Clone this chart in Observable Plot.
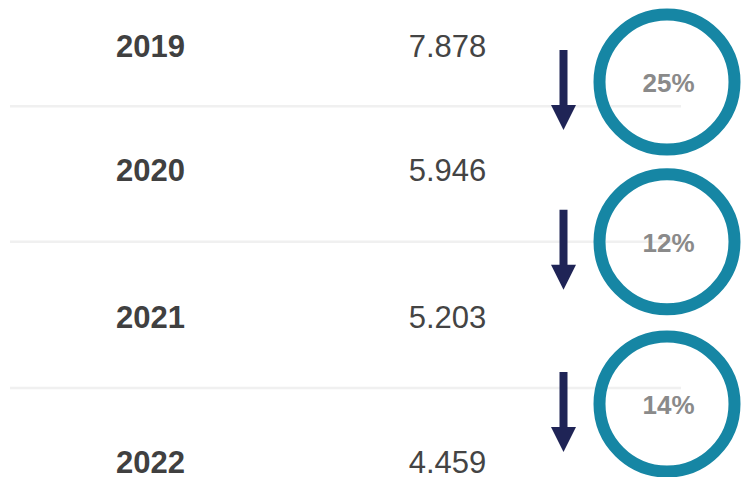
<!DOCTYPE html>
<html>
<head>
<meta charset="utf-8">
<script src="https://cdn.jsdelivr.net/npm/d3@7"></script>
<script src="https://cdn.jsdelivr.net/npm/@observablehq/plot@0.6"></script>
<style>
  html, body { margin: 0; padding: 0; background: #ffffff; }
  #chart svg { display: block; }
</style>
</head>
<body>
<div id="chart"></div>
<script>
// ---- data ----
const years = [2019, 2020, 2021, 2022];
const values = [7878, 5946, 5203, 4459];
const changes = [25, 12, 14]; // % decrease from one year to the next

// ---- layout (positions / sizes / styles, not data) ----
const layout = {
  width: 741,
  height: 477,
  rowY: [47, 170.5, 318, 463],      // y-range of the year scale (piecewise)
  changeAt: [0.28, 0.48, 0.59],     // where each change marker sits between two rows
  xYear: 150,
  xValue: 447,
  xArrow: 563,
  xCircle: 666.5,
  xRuleStart: 10,
  xRuleEnd: 681
};

const fmt = d3.formatLocale({decimal: ",", thousands: ".", grouping: [3], currency: ["", ""]}).format(",d");

const rows = years.map((y, i) => ({year: y, value: values[i]}));
const steps = changes.map((c, i) => ({
  from: years[i],
  pos: years[i] + layout.changeAt[i],
  label: c + "%"
}));
const seps = years.slice(0, -1).map(y => ({pos: y + 0.5}));

// custom down-arrow symbol (shaft + filled head)
const downArrow = {
  draw(ctx, size) {
    ctx.moveTo(-4, -40);
    ctx.lineTo(4, -40);
    ctx.lineTo(4, 15);
    ctx.lineTo(12.5, 15);
    ctx.lineTo(0, 40);
    ctx.lineTo(-12.5, 15);
    ctx.lineTo(-4, 15);
    ctx.closePath();
  }
};

const chart = Plot.plot({
  width: layout.width,
  height: layout.height,
  margin: 0,
  style: {fontFamily: "'Liberation Sans', Arial, sans-serif", background: "#ffffff"},
  x: {type: "linear", domain: [0, layout.width], range: [0, layout.width], axis: null},
  y: {type: "linear", domain: years, range: layout.rowY, axis: null},
  marks: [
    Plot.ruleY(seps, {y: "pos", x1: layout.xRuleStart, x2: layout.xRuleEnd, dy: -3, stroke: "#f0f0f0", strokeWidth: 2.5}),
    Plot.text(rows, {x: layout.xYear, y: "year", text: d => String(d.year), fontSize: 31, fontWeight: "bold", fill: "#404040", textAnchor: "middle"}),
    Plot.text(rows, {x: layout.xValue, y: "year", text: d => fmt(d.value), fontSize: 31, fill: "#444444", textAnchor: "middle"}),
    Plot.dot(steps, {x: layout.xArrow, y: "pos", dy: 8, r: 40, symbol: downArrow, fill: "#1f2456", stroke: "none"}),
    Plot.dot(steps, {x: layout.xCircle, y: "pos", r: 67.5, fill: "none", stroke: "#1686a4", strokeWidth: 12}),
    Plot.text(steps, {x: layout.xCircle + 1.5, y: "pos", dy: 2, text: "label", fontSize: 26, fontWeight: "bold", fill: "#8a8a8a", textAnchor: "middle"})
  ]
});
document.getElementById("chart").appendChild(chart);
</script>
</body>
</html>
